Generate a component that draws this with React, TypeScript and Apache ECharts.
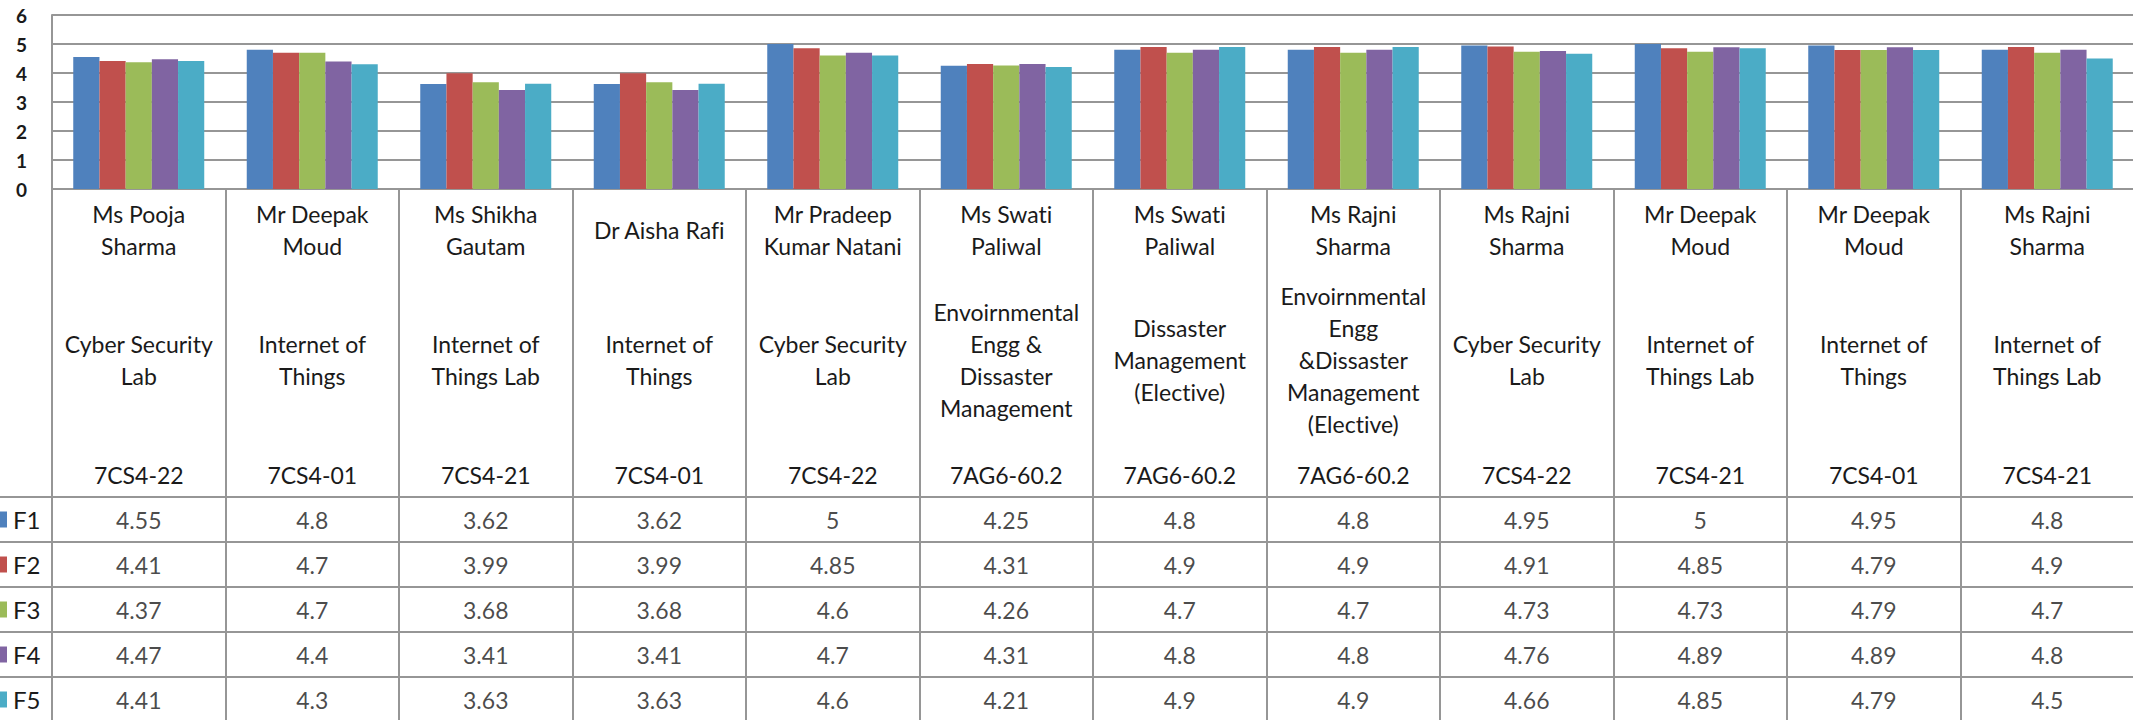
import React, { useEffect, useRef } from "react";
import * as echarts from "echarts";

const teachers = [
  "Ms Pooja\nSharma",
  "Mr Deepak\nMoud",
  "Ms Shikha\nGautam",
  "Dr Aisha Rafi",
  "Mr Pradeep\nKumar Natani",
  "Ms Swati\nPaliwal",
  "Ms Swati\nPaliwal",
  "Ms Rajni\nSharma",
  "Ms Rajni\nSharma",
  "Mr Deepak\nMoud",
  "Mr Deepak\nMoud",
  "Ms Rajni\nSharma",
];
const subjects = [
  "Cyber Security\nLab",
  "Internet of\nThings",
  "Internet of\nThings Lab",
  "Internet of\nThings",
  "Cyber Security\nLab",
  "Envoirnmental\nEngg &\nDissaster\nManagement",
  "Dissaster\nManagement\n(Elective)",
  "Envoirnmental\nEngg\n&Dissaster\nManagement\n(Elective)",
  "Cyber Security\nLab",
  "Internet of\nThings Lab",
  "Internet of\nThings",
  "Internet of\nThings Lab",
];
const codes = [
  "7CS4-22", "7CS4-01", "7CS4-21", "7CS4-01", "7CS4-22", "7AG6-60.2",
  "7AG6-60.2", "7AG6-60.2", "7CS4-22", "7CS4-21", "7CS4-01", "7CS4-21",
];

const seriesNames = ["F1", "F2", "F3", "F4", "F5"];
const F1 = [4.55, 4.8, 3.62, 3.62, 5, 4.25, 4.8, 4.8, 4.95, 5, 4.95, 4.8];
const F2 = [4.41, 4.7, 3.99, 3.99, 4.85, 4.31, 4.9, 4.9, 4.91, 4.85, 4.79, 4.9];
const F3 = [4.37, 4.7, 3.68, 3.68, 4.6, 4.26, 4.7, 4.7, 4.73, 4.73, 4.79, 4.7];
const F4 = [4.47, 4.4, 3.41, 3.41, 4.7, 4.31, 4.8, 4.8, 4.76, 4.89, 4.89, 4.8];
const F5 = [4.41, 4.3, 3.63, 3.63, 4.6, 4.21, 4.9, 4.9, 4.66, 4.85, 4.79, 4.5];
const seriesValues = [F1, F2, F3, F4, F5];
const colors = ["#4F81BD", "#C0504D", "#9BBB59", "#8064A2", "#4BACC6"];

const FONT = "Lato";
const LINE = "#969696";
const TEXT = "#1a1a1a";

export default function App() {
  const ref = useRef<HTMLDivElement>(null);

  useEffect(() => {
    const chart = echarts.init(ref.current!, null, { renderer: "svg" });
    const cats = teachers.map((_, i) => String(i));

    const headerAxis = (labels: string[], margin: number, showLine: boolean) => ({
      type: "category",
      gridIndex: 0,
      position: "bottom",
      data: cats,
      axisTick: { show: false },
      axisLine: { show: showLine, lineStyle: { color: LINE, width: 2 } },
      splitLine: { show: false },
      axisLabel: {
        interval: 0,
        hideOverlap: false,
        margin,
        verticalAlign: "middle",
        align: "center",
        fontFamily: FONT,
        fontSize: 23,
        lineHeight: 32,
        color: TEXT,
        formatter: (_v: string, i: number) => labels[i],
      },
    });

    const rich: any = {
      t: { fontFamily: FONT, fontSize: 24, color: TEXT, padding: [0, 0, 0, 6] },
    };
    colors.forEach((c, i) => {
      rich["k" + i] = { width: 7, height: 16, backgroundColor: c };
    });

    const option: any = {
      animation: false,
      backgroundColor: "#ffffff",
      textStyle: { fontFamily: FONT },
      grid: [
        { left: 52, right: -1, top: 15, height: 174, outerBoundsMode: "none", containLabel: false },
        { left: 52, right: -1, top: 189, height: 533, outerBoundsMode: "none", containLabel: false },
        { left: 52, right: -1, top: 497, height: 225, outerBoundsMode: "none", containLabel: false },
        { left: 0, width: 52, top: 497, height: 225, outerBoundsMode: "none", containLabel: false },
      ],
      xAxis: [
        headerAxis(teachers, 41, true),
        headerAxis(subjects, 171, false),
        headerAxis(codes, 286, false),
        {
          type: "category",
          gridIndex: 1,
          data: cats,
          axisLine: { show: false },
          axisTick: { show: false },
          axisLabel: { show: false },
          splitLine: { show: true, showMinLine: true, showMaxLine: true, lineStyle: { color: LINE, width: 2 } },
        },
        {
          type: "category",
          gridIndex: 2,
          data: cats,
          axisLine: { show: false },
          axisTick: { show: false },
          axisLabel: { show: false },
          splitLine: { show: false },
        },
        {
          type: "value",
          gridIndex: 3,
          show: false,
          min: 0,
          max: 1,
        },
      ],
      yAxis: [
        {
          type: "value",
          gridIndex: 0,
          min: 0,
          max: 6,
          interval: 1,
          axisLine: { show: true, lineStyle: { color: LINE, width: 2 } },
          axisTick: { show: false },
          splitLine: { show: true, lineStyle: { color: LINE, width: 2 } },
          axisLabel: {
            margin: 25,
            fontFamily: FONT,
            fontSize: 19,
            fontWeight: "bold",
            color: TEXT,
          },
        },
        {
          type: "value",
          gridIndex: 1,
          show: false,
          min: 0,
          max: 1,
        },
        {
          type: "category",
          gridIndex: 2,
          inverse: true,
          data: seriesNames,
          axisLine: { show: false },
          axisTick: { show: false },
          splitLine: { show: true, showMinLine: true, showMaxLine: true, lineStyle: { color: LINE, width: 2 } },
          axisLabel: {
            interval: 0,
            margin: 52,
            align: "left",
            formatter: (v: string, i: number) => `{k${i}| }{t|${v}}`,
            rich,
          },
        },
        {
          type: "category",
          gridIndex: 3,
          inverse: true,
          data: seriesNames,
          axisLine: { show: false },
          axisTick: { show: false },
          axisLabel: { show: false },
          splitLine: { show: true, showMinLine: true, showMaxLine: true, lineStyle: { color: LINE, width: 2 } },
        },
      ],
      series: [
        ...seriesNames.map((name, s) => ({
          name,
          type: "bar",
          xAxisIndex: 0,
          yAxisIndex: 0,
          barGap: "0%",
          barCategoryGap: "24.5%",
          itemStyle: { color: colors[s] },
          data: seriesValues[s],
        })),
        ...seriesNames.map((name, s) => ({
          name: name + " table",
          type: "scatter",
          xAxisIndex: 4,
          yAxisIndex: 2,
          symbol: "circle",
          symbolSize: 1,
          silent: true,
          itemStyle: { color: "rgba(0,0,0,0)" },
          label: {
            show: true,
            position: "inside",
            fontFamily: FONT,
            fontSize: 23,
            color: TEXT,
            formatter: (p: any) => String(p.value[2]),
          },
          data: seriesValues[s].map((v, i) => [i, s, v]),
        })),
      ],
    };

    chart.setOption(option);
    return () => chart.dispose();
  }, []);

  return (
    <div
      ref={ref}
      style={{
        position: "absolute",
        left: 0,
        top: 0,
        width: 2133,
        height: 720,
        background: "#fff",
        fontVariantLigatures: "none",
      }}
    />
  );
}
